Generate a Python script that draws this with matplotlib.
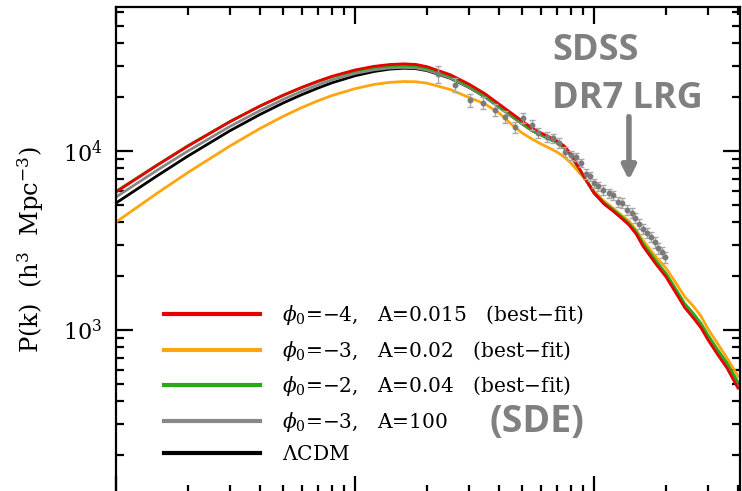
import numpy as np
import matplotlib.pyplot as plt

plt.rcParams['font.family'] = 'DejaVu Serif'
plt.rcParams['mathtext.fontset'] = 'dejavuserif'

# wavenumber grid (h/Mpc)
k = [0.001, 0.0015, 0.002, 0.003, 0.004, 0.005, 0.006, 0.007, 0.008,
     0.01, 0.012, 0.014, 0.016, 0.018, 0.02, 0.025, 0.03, 0.035, 0.04, 0.045,
     0.05, 0.055, 0.06, 0.065, 0.07, 0.075, 0.08, 0.09,
     0.1, 0.11, 0.12, 0.13, 0.14, 0.15, 0.16, 0.18,
     0.2, 0.22, 0.24, 0.26, 0.28, 0.3, 0.33, 0.36, 0.4]

p_red = [5900, 8390, 10650, 14580, 17820, 20480, 22700, 24550, 26110,
         28350, 29690, 30420, 30660, 30420, 29570, 26690, 23620, 20870, 18300, 16310,
         14710, 13440, 12610, 11970, 11370, 10670, 9620, 7340,
         5830, 5060, 4620, 4220, 3860, 3440, 2950, 2370,
         1980, 1610, 1330, 1170, 1030, 879, 725, 613, 474]

p_orange = [4010, 5855, 7585, 10670, 13340, 15610, 17500, 19070, 20400,
            22280, 23530, 24170, 24420, 24360, 23920, 22060, 19900, 18300, 16310, 14150,
            12610, 11670, 10940, 10390, 9870, 9260, 8570, 7155,
            5977, 5258, 4804, 4390, 4063, 3620, 3183, 2591,
            2220, 1830, 1529, 1362, 1197, 1013, 835, 698, 553]

p_green = [5950, 8420, 10700, 14620, 17800, 20420, 22600, 24400, 25900,
           28000, 29250, 29900, 30100, 29850, 29000, 26150, 23100, 20350, 17850, 15900,
           14350, 13100, 12300, 11700, 11100, 10450, 9450, 7300,
           5880, 5160, 4710, 4310, 3940, 3540, 3060, 2470,
           2070, 1690, 1400, 1240, 1090, 935, 772, 655, 512]

p_gray = [5530, 7870, 10000, 13720, 16800, 19400, 21600, 23400, 24950,
          27100, 28400, 29100, 29300, 29100, 28300, 25600, 22700, 20050, 17600, 15700,
          14200, 12980, 12300, 11700, 11100, 10430, 9420, 7300,
          5830, 5100, 4680, 4280, 3920, 3500, 2990, 2410,
          2020, 1645, 1360, 1195, 1055, 902, 745, 630, 488]

p_black = [5120, 7325, 9370, 12980, 15980, 18530, 20660, 22460, 24020,
           26310, 27790, 28660, 28970, 28810, 28090, 25490, 22630, 20035, 17600, 15700,
           14200, 12980, 12300, 11700, 11100, 10430, 9420, 7300,
           5830, 5100, 4680, 4280, 3920, 3500, 2990, 2410,
           2020, 1645, 1360, 1195, 1055, 902, 745, 630, 485]

# SDSS DR7 LRG band powers
k_sdss = [0.0222, 0.0262, 0.0303, 0.0343, 0.0385, 0.0424, 0.0467, 0.0505, 0.0550,
          0.0583, 0.0636, 0.0674, 0.0714, 0.0756, 0.0801, 0.0841, 0.0882, 0.0926,
          0.0962, 0.100, 0.104, 0.109, 0.115, 0.120, 0.126, 0.131, 0.137, 0.144,
          0.149, 0.154, 0.160, 0.167, 0.173, 0.180, 0.185, 0.193, 0.198]
p_sdss = [26900, 23400, 19300, 18500, 16900, 15500, 13600, 15300, 14000,
          12600, 12000, 11800, 11100, 9870, 9500, 9250, 8570, 7450,
          7250, 6620, 6370, 6060, 5820, 5670, 5190, 5120, 4680, 4510,
          4220, 3910, 3660, 3480, 3310, 3100, 2870, 2730, 2560]
err_sdss = [3000, 2100, 1600, 1400, 1300, 1200, 1000, 1000, 900,
            800, 750, 700, 650, 600, 550, 500, 480, 450,
            420, 400, 380, 360, 350, 340, 320, 310, 290, 280,
            270, 250, 240, 230, 220, 210, 200, 190, 180]

labels = [r'$\phi_0$=$-$4,   A=0.015   (best$-$fit)',
          r'$\phi_0$=$-$3,   A=0.02   (best$-$fit)',
          r'$\phi_0$=$-$2,   A=0.04   (best$-$fit)',
          r'$\phi_0$=$-$3,   A=100',
          r'$\Lambda$CDM']
colors = ['#e60000', '#ffa510', '#2aa81a', '#888888', '#000000']

fig = plt.figure(figsize=(7.42, 4.91), dpi=100)
ax = fig.add_axes([116 / 742, -2 / 491, 624 / 742, 486 / 491])

series = [p_red, p_orange, p_green, p_gray, p_black]
handles = [None] * 5
for i in [4, 3, 1, 2, 0]:
    handles[i], = ax.plot(k, series[i], color=colors[i], lw=2, label=labels[i])

ax.errorbar(k_sdss, p_sdss, yerr=err_sdss, fmt='o', ms=3.2, color='#7a7a7a',
            ecolor='#a8a8a8', elinewidth=1, capsize=2.5, capthick=1, zorder=5)

ax.set_xscale('log')
ax.set_yscale('log')
ax.set_xlim(0.001, 0.408)
ax.set_ylim(123, 63700)

for s in ax.spines.values():
    s.set_linewidth(1.6)
ax.tick_params(which='both', direction='in', top=True, right=True,
               labelbottom=False, width=1.6)
ax.tick_params(which='major', length=12, labelsize=16, pad=10)
ax.tick_params(which='minor', length=6)

ax.set_ylabel('P(k)  (h$^3$  Mpc$^{-3}$)', fontsize=17.5, labelpad=12)

leg = ax.legend(handles=handles, loc='center left', bbox_to_anchor=(0.077, 0.225),
                frameon=False, fontsize=14.5, handlelength=4.75, handletextpad=1.1,
                labelspacing=0.57, borderpad=0, borderaxespad=0)
for h in leg.get_lines():
    h.set_linewidth(3)

ax.text(0.699, 0.891, 'SDSS', transform=ax.transAxes, ha='left', va='baseline',
        fontsize=26, fontweight='bold', family='Open Sans', color='#808080')
ax.text(0.699, 0.792, 'DR7 LRG', transform=ax.transAxes, ha='left', va='baseline',
        fontsize=26, fontweight='bold', family='Open Sans', color='#808080')
ax.annotate('', xy=(0.822, 0.638), xytext=(0.822, 0.78), xycoords='axes fraction',
            arrowprops=dict(arrowstyle='-|>,head_length=0.8,head_width=0.4',
                            color='#808080', lw=4))
ax.text(0.599, 0.1255, '(SDE)', transform=ax.transAxes, ha='left', va='baseline',
        fontsize=27, fontweight='bold', family='Open Sans', color='#808080')

fig.savefig('out.png', dpi=100)
